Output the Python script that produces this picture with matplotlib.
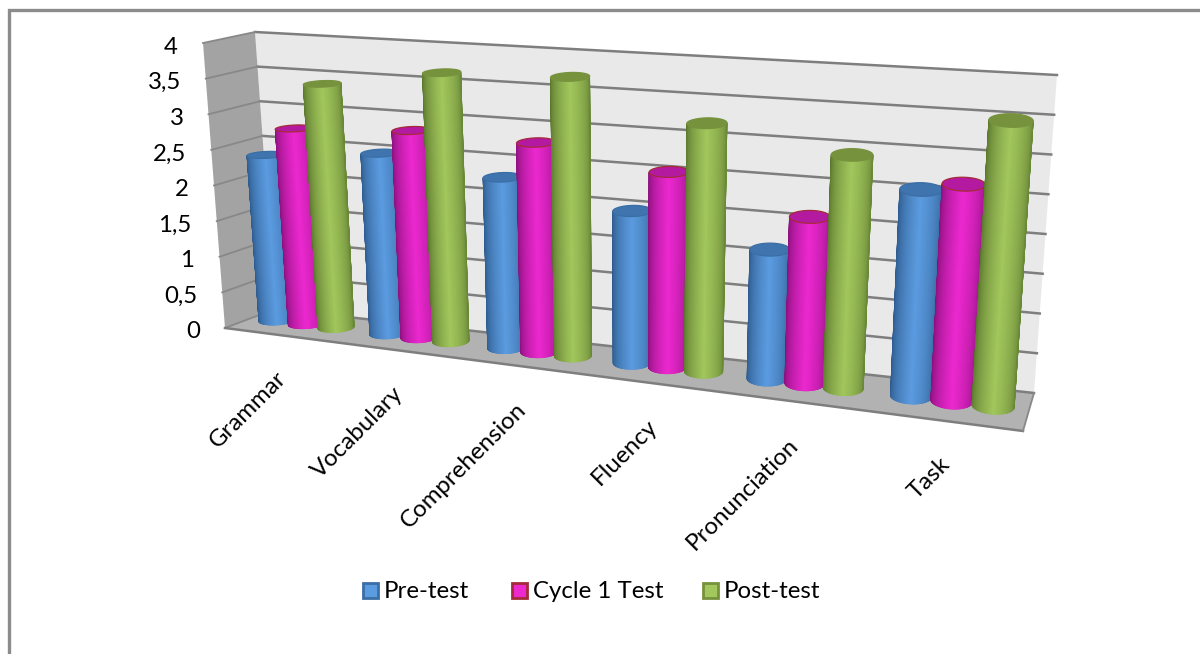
import numpy as np
import matplotlib
matplotlib.use("Agg")
import matplotlib.pyplot as plt
from matplotlib.collections import PolyCollection
from matplotlib.patches import Polygon, Rectangle

categories = ["Grammar", "Vocabulary", "Comprehension", "Fluency", "Pronunciation", "Task"]
pre_test = [2.35, 2.51, 2.32, 2.02, 1.68, 2.62]
cycle_1 = [2.76, 2.86, 2.83, 2.58, 2.15, 2.73]
post_test = [3.42, 3.69, 3.75, 3.26, 2.99, 3.57]
series_names = ["Pre-test", "Cycle 1 Test", "Post-test"]
y_ticks = [0, 0.5, 1, 1.5, 2, 2.5, 3, 3.5, 4]
y_labels = ["0", "0,5", "1", "1,5", "2", "2,5", "3", "3,5", "4"]

Y_MAX = 4.0
# Screen position of the eight corners of the plot box: (across, up, depth)
CORNERS = {
    (0, 0, 0): (225, 328), (1, 0, 0): (1023, 431),
    (0, 1, 0): (203, 43), (1, 1, 0): (1044, 105),
    (0, 0, 1): (275, 309), (1, 0, 1): (1034, 393),
    (0, 1, 1): (255, 32), (1, 1, 1): (1057, 75),
}
PERSPECTIVE = 1.22
BAR_WIDTH = 0.27
BAR_DEPTH = 0.22
BAR_PLANE = 0.55

SERIES_STYLE = [
    dict(face="#5B9BE0", dark="#2B5788", top="#3F74AE", edge="#3A6EA5"),
    dict(face="#EC28CF", dark="#850F78", top="#B31AA0", edge="#A52A3A"),
    dict(face="#A2C75C", dark="#56722B", top="#76923C", edge="#76923C"),
]


def project(s, v, z):
    """Map category fraction s, value v and depth z onto canvas pixels."""
    s = np.asarray(s, float)
    v = np.asarray(v, float) / Y_MAX
    z = np.asarray(z, float)
    t = s / (s + PERSPECTIVE * (1 - s))
    px = np.zeros(np.broadcast(s, v, z).shape)
    py = np.zeros_like(px)
    for (a, b, c), (cx, cy) in CORNERS.items():
        w = (t if a else 1 - t) * (v if b else 1 - v) * (z if c else 1 - z)
        px = px + w * cx
        py = py + w * cy
    return px, py


def quad(ax, pts, **kw):
    ax.add_patch(Polygon(pts, closed=True, **kw))


def mix(c1, c2, f):
    a = np.array(matplotlib.colors.to_rgb(c1))
    b = np.array(matplotlib.colors.to_rgb(c2))
    return tuple(a + (b - a) * f)


def cylinder(ax, s, half, value, style):
    theta = np.linspace(0, 2 * np.pi, 181)
    ss = s + half * np.cos(theta)
    zz = BAR_PLANE + BAR_DEPTH * np.sin(theta)
    bx, by = project(ss, 0 * ss, zz)
    tx, ty = project(ss, value + 0 * ss, zz)
    # visible side runs along the near half of the rim, silhouette to silhouette
    i_l, i_r = int(np.argmin(bx[:-1])), int(np.argmax(bx[:-1]))
    idx = np.arange(i_l, i_r + (181 - 1 if i_r < i_l else 0) + 1) % 180
    if np.mean(by[idx]) < np.mean(by):
        idx = np.arange(i_r, i_l + (180 if i_l < i_r else 0) + 1) % 180
        idx = idx[::-1]
    polys, cols = [], []
    for i, j in zip(idx[:-1], idx[1:]):
        f = (bx[i] - bx[idx[0]]) / (bx[idx[-1]] - bx[idx[0]])
        shade = np.clip(1.0 - abs(f - 0.5) * 2, 0, 1) ** 0.55
        if f > 0.5:
            shade = 0.25 + 0.75 * shade
        cols.append(mix(style["dark"], style["face"], shade))
        polys.append([(bx[i], by[i]), (bx[j], by[j]), (tx[j], ty[j]), (tx[i], ty[i])])
    ax.add_collection(PolyCollection(polys, facecolors=cols, edgecolors=cols, linewidths=0.5, zorder=5))
    quad(ax, np.column_stack([tx, ty]), facecolor=style["top"], edgecolor=style["edge"], linewidth=0.9, zorder=5)


fig = plt.figure(figsize=(12, 6.54), dpi=100)
plt.rcParams["font.family"] = ["Lato", "DejaVu Sans"]
ax = fig.add_axes([0, 0, 1, 1])
ax.set_xlim(0, 1200)
ax.set_ylim(654, 0)
ax.axis("off")

# Chart frame: only the left and top sides are drawn
ax.plot([9, 9, 1200], [654, 10, 10], color="#8c8c8c", lw=2.4, solid_joinstyle="miter")

# Back wall, side wall and floor
box = lambda a, b, c: project(a, b * Y_MAX, c)
back = [box(0, 0, 1), box(1, 0, 1), box(1, 1, 1), box(0, 1, 1)]
side = [box(0, 0, 0), box(0, 0, 1), box(0, 1, 1), box(0, 1, 0)]
floor = [box(0, 0, 0), box(1, 0, 0), box(1, 0, 1), box(0, 0, 1)]
quad(ax, back, facecolor="#E9E9E9", edgecolor="none", zorder=1)
quad(ax, side, facecolor="#A3A3A3", edgecolor="none", zorder=1)
quad(ax, floor, facecolor="#B2B2B2", edgecolor="none", zorder=1)

grid_color = "#7E7E7E"
for v in y_ticks:
    x, y = project([0, 1], [v, v], [1, 1])
    ax.plot(x, y, color=grid_color, lw=1.8, zorder=2)
    x, y = project([0, 0], [v, v], [0, 1])
    ax.plot(x, y, color="#888888", lw=1.3, zorder=2)
x, y = project([0, 1], [0, 0], [0, 0])
ax.plot(x, y, color=grid_color, lw=1.8, zorder=2)
x, y = project([1, 1], [0, 0], [0, 1])
ax.plot(x, y, color="#888888", lw=1.3, zorder=2)

# Value axis labels follow the near edge of the side wall
for v, lab in zip(y_ticks, y_labels):
    x, y = project(0, v, 0)
    ax.text(float(x) - 25, float(y) + 4, lab, ha="right", va="center", fontsize=17.3, color="black", zorder=6)

# Cylinders
n = len(categories)
for c in range(n):
    for k, values in enumerate([pre_test, cycle_1, post_test]):
        s = (c + 0.5 + (k - 1) * BAR_WIDTH) / n
        cylinder(ax, s, BAR_WIDTH / 2 / n, values[c], SERIES_STYLE[k])

# Category labels, rotated and anchored under each group
for c, name in enumerate(categories):
    x, y = project((c + 0.5) / n, 0, 0)
    ax.text(float(x) + 3, float(y) + 40, name, rotation=45, rotation_mode="anchor",
            ha="right", va="center", fontsize=17.3, color="black", zorder=6)

# Legend
legend_x = [362, 511, 702]
legend_colors = [(s["face"], s["edge"]) for s in SERIES_STYLE]
for lx, name, (fc, ec) in zip(legend_x, series_names, legend_colors):
    ax.add_patch(Rectangle((lx + 1, 583), 15, 15, facecolor=fc, edgecolor=ec, linewidth=2, zorder=6))
    ax.text(lx + 22, 591.5, name, ha="left", va="center", fontsize=17.3, color="black", zorder=6)

fig.savefig("out.png", dpi=100)
